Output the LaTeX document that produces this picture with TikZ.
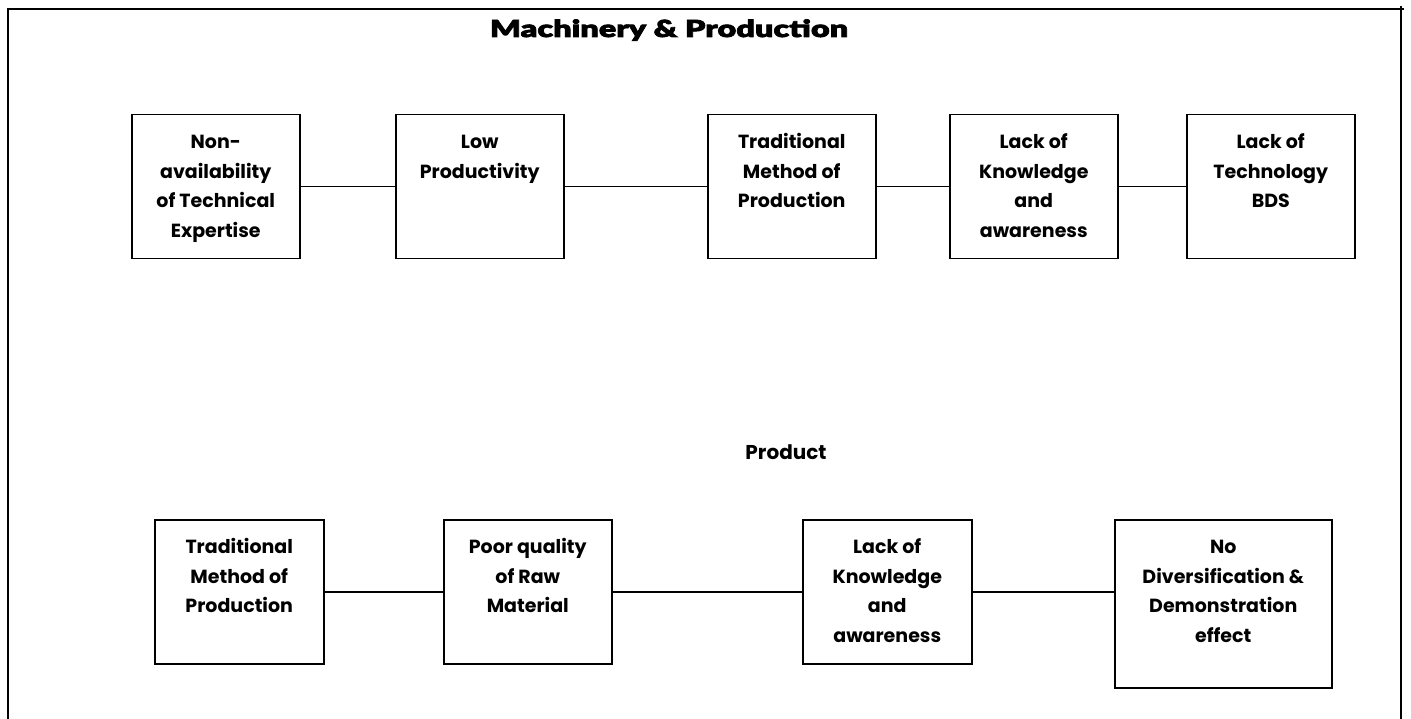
\documentclass[tikz,border=0pt]{standalone}
\usepackage{fontspec}
\setmainfont{Poppins}
\newfontfamily\headfont{Lato Black}[FakeStretch=1.38, FakeBold=3]
\usetikzlibrary{calc}

% top-aligned box text: width, height, lines
\newcommand\boxlines[3]{\parbox[c][#2pt][t]{#1pt}{\centering\rule{0pt}{34pt}#3}}

\tikzset{
  stage/.style={draw=black, line width=1.5pt, inner sep=0pt, anchor=north west,
    font=\fontsize{19}{29.5}\selectfont\bfseries},
  link/.style={draw=black, line width=1.5pt},
  frame/.style={draw=black, line width=2pt},
}

\begin{document}
\begin{tikzpicture}[x=1pt, y=-1pt]
\useasboundingbox (0,0) rectangle (1411,719);

% outer frame (open at the bottom)
\draw[frame] (8,719) -- (8,9) -- (1404,9);
\draw[frame] (1401,6) -- (1401,719);

% headings
\node[font=\headfont\fontsize{23.5}{26}\selectfont, anchor=base] (head1) at (669,37) {Machinery \& Production};
\node[font=\fontsize{20}{25}\selectfont\bfseries, anchor=base] (head2) at (786,459) {Product};

% machinery & production chain
\node[stage] (m1) at (131,114) {\boxlines{168}{144}{Non-\\availability\\of Technical\\Expertise}};
\node[stage] (m2) at (395,114) {\boxlines{168}{144}{Low\\Productivity}};
\node[stage] (m3) at (707,114) {\boxlines{168}{144}{Traditional\\Method of\\Production}};
\node[stage] (m4) at (949,114) {\boxlines{168}{144}{Lack of\\Knowledge\\and\\awareness}};
\node[stage] (m5) at (1186,114) {\boxlines{168}{144}{Lack of\\Technology\\BDS}};

\draw[link] (m1.east) -- (m2.west);
\draw[link] (m2.east) -- (m3.west);
\draw[link] (m3.east) -- (m4.west);
\draw[link] (m4.east) -- (m5.west);

% product chain
\node[stage] (p1) at (154,519) {\boxlines{169}{144}{Traditional\\Method of\\Production}};
\node[stage] (p2) at (443,519) {\boxlines{168}{144}{Poor quality\\of Raw\\Material}};
\node[stage] (p3) at (802,519) {\boxlines{169}{144}{Lack of\\Knowledge\\and\\awareness}};
\node[stage] (p4) at (1114,519) {\boxlines{217}{168}{No\\Diversification \&\\Demonstration\\effect}};

\draw[link] (p1.east) -- (p2.west);
\draw[link] (p2.east) -- (p3.west);
\draw[link] (p3.east) -- (p3.east -| p4.west);
\end{tikzpicture}
\end{document}
